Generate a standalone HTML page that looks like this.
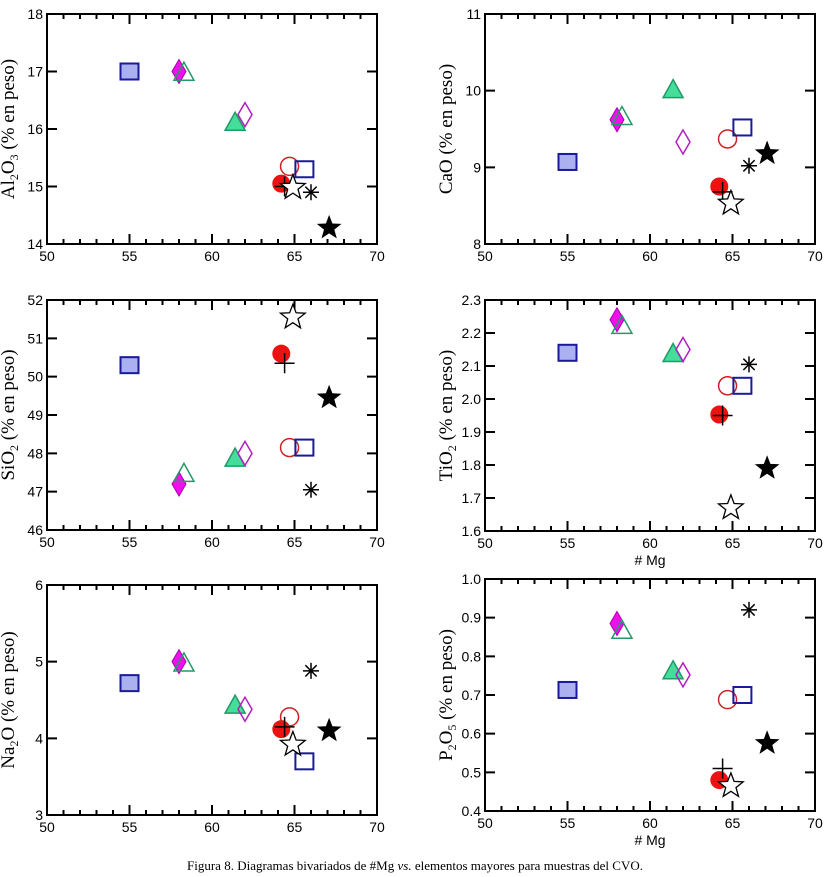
<!DOCTYPE html>
<html><head><meta charset="utf-8"><style>
body{margin:0;background:#fff;width:830px;height:877px;overflow:hidden}
svg{display:block}
.tk{font-family:"Liberation Sans",sans-serif;font-size:14px;fill:#000}
.yl{font-family:"Liberation Serif",serif;font-size:19px;fill:#000}
</style></head><body>
<svg id="c" width="830" height="877" xmlns="http://www.w3.org/2000/svg">
<text x="415" y="870" text-anchor="middle" style="font-family:'Liberation Serif',serif;font-size:13px">Figura 8. Diagramas bivariados de #Mg <tspan font-style="italic">vs.</tspan> elementos mayores para muestras del CVO.</text>
</svg>
<script>
// shared #Mg values per sample (x)
const sampleKeys=["sqFill","diaFill","triOpen","triFill","diaOpen","circFill","circOpen","sqOpen","plus","starOpen","asterisk","starFill"];
const mgValues=[55,58,58.3,61.4,62,64.2,64.7,65.6,64.4,64.9,66,67.1];
const al2o3=[17,17,16.97,16.1,16.25,15.05,15.35,15.3,15.0,14.98,14.9,14.28];
const cao=[9.07,9.62,9.65,10.0,9.33,8.75,9.37,9.52,8.68,8.53,9.02,9.18];
const sio2=[50.3,47.2,47.45,47.85,48.0,50.6,48.15,48.15,50.35,51.55,47.05,49.45];
const tio2=[2.14,2.24,2.22,2.135,2.15,1.953,2.04,2.04,1.95,1.67,2.105,1.79];
const na2o=[4.72,5.0,4.97,4.42,4.38,4.12,4.28,3.7,4.15,3.92,4.88,4.1];
const p2o5=[0.713,0.885,0.865,0.76,0.752,0.48,0.688,0.70,0.51,0.465,0.92,0.575];
const xTicks=[50,55,60,65,70];
const alTicks=[14,15,16,17,18], caoTicks=[8,9,10,11], sioTicks=[46,47,48,49,50,51,52];
const tioTicks=[1.6,1.7,1.8,1.9,2.0,2.1,2.2,2.3], naTicks=[3,4,5,6], pTicks=[0.4,0.5,0.6,0.7,0.8,0.9,1.0];

const NS="http://www.w3.org/2000/svg", svg=document.getElementById('c');
function mk(t,a,p){const e=document.createElementNS(NS,t);for(const k in a)e.setAttribute(k,a[k]);(p||svg).appendChild(e);return e;}

const panels=[
 {name:"al2o3",vals:al2o3,ticks:alTicks,dec:0,L:47,R:377,T:14,B:244,lab:["Al","2","O","3"," (% en peso)"],mg:false},
 {name:"cao",vals:cao,ticks:caoTicks,dec:0,L:485,R:815,T:14,B:244,lab:["CaO (% en peso)"],mg:false},
 {name:"sio2",vals:sio2,ticks:sioTicks,dec:0,L:47,R:377,T:300,B:530,lab:["SiO","2"," (% en peso)"],mg:false},
 {name:"tio2",vals:tio2,ticks:tioTicks,dec:1,L:485,R:815,T:300,B:531,lab:["TiO","2"," (% en peso)"],mg:true},
 {name:"na2o",vals:na2o,ticks:naTicks,dec:0,L:47,R:377,T:585,B:815,lab:["Na","2","O (% en peso)"],mg:false},
 {name:"p2o5",vals:p2o5,ticks:pTicks,dec:1,L:485,R:815,T:579,B:811,lab:["P","2","O","5"," (% en peso)"],mg:true}
];

function star(cx,cy,r){let p=[];for(let i=0;i<10;i++){const a=-Math.PI/2+i*Math.PI/5,rr=i%2?r*0.42:r;p.push((cx+rr*Math.cos(a)).toFixed(1)+","+(cy+rr*Math.sin(a)).toFixed(1));}return p.join(" ");}

function marker(g,k,x,y){
 let e;
 if(k==="sqFill")e=mk('rect',{x:x-9,y:y-8,width:18,height:16,fill:"#aab0f0",stroke:"#1a1a9a","stroke-width":2},g);
 else if(k==="sqOpen")e=mk('rect',{x:x-9,y:y-8,width:18,height:16,fill:"none",stroke:"#1a1a9a","stroke-width":2},g);
 else if(k==="diaFill")e=mk('polygon',{points:`${x},${y-12} ${x+7},${y} ${x},${y+12} ${x-7},${y}`,fill:"#ee11ee",stroke:"#aa00aa","stroke-width":1},g);
 else if(k==="diaOpen")e=mk('polygon',{points:`${x},${y-12} ${x+7},${y} ${x},${y+12} ${x-7},${y}`,fill:"none",stroke:"#b020c0","stroke-width":1.5},g);
 else if(k==="triFill")e=mk('polygon',{points:`${x},${y-11} ${x+10},${y+7} ${x-10},${y+7}`,fill:"#44dd99",stroke:"#229966","stroke-width":1.5},g);
 else if(k==="triOpen")e=mk('polygon',{points:`${x},${y-11} ${x+10},${y+7} ${x-10},${y+7}`,fill:"none",stroke:"#229966","stroke-width":1.5},g);
 else if(k==="circFill")e=mk('circle',{cx:x,cy:y,r:9,fill:"#ee1111"},g);
 else if(k==="circOpen")e=mk('circle',{cx:x,cy:y,r:9,fill:"none",stroke:"#cc2222","stroke-width":1.5},g);
 else if(k==="plus")e=mk('path',{d:`M${x-10},${y}H${x+10}M${x},${y-10}V${y+10}`,stroke:"#000","stroke-width":1.5},g);
 else if(k==="starOpen")e=mk('polygon',{points:star(x,y,13),fill:"#fff",stroke:"#000","stroke-width":1.3},g);
 else if(k==="starFill")e=mk('polygon',{points:star(x,y,13),fill:"#000"},g);
 else if(k==="asterisk"){let d="";for(let i=0;i<4;i++){const a=i*Math.PI/4,dx=8*Math.cos(a),dy=8*Math.sin(a);d+=`M${x-dx},${y-dy}L${x+dx},${y+dy}`;}e=mk('path',{d,stroke:"#000","stroke-width":1.5},g);}
 return e;
}

panels.forEach(p=>{
 const g=mk('g',{});
 
 
 const y0=p.ticks[0],y1=p.ticks[p.ticks.length-1];
 const sx=v=>p.L+(v-50)/20*(p.R-p.L);
 const sy=v=>p.B-(v-y0)/(y1-y0)*(p.B-p.T);
 let d="";
 for(let v=51;v<70;v++){const x=sx(v),len=v%5?5:10;d+=`M${x},${p.B}v${-len}M${x},${p.T}v${len}`;}
 p.ticks.forEach(v=>{const y=sy(v);d+=`M${p.L},${y}h10M${p.R},${y}h-10`;});
 const ax=mk('path',{d,stroke:"#000","stroke-width":2,fill:"none"},g);
 
 
 const fr=mk('rect',{x:p.L,y:p.T,width:p.R-p.L,height:p.B-p.T,fill:"none",stroke:"#000","stroke-width":2},g);
 
 
 xTicks.forEach(v=>{const t=mk('text',{x:sx(v),y:p.B+17,"text-anchor":"middle",class:"tk"},g);t.textContent=v;
  
  });
 p.ticks.forEach(v=>{const t=mk('text',{x:p.L-4,y:sy(v)+5,"text-anchor":"end",class:"tk"},g);t.textContent=v.toFixed(p.dec);
  
  });
 const cy=(p.T+p.B)/2, lx=p.L-33;
 const yl=mk('text',{x:lx,y:cy,"text-anchor":"middle",class:"yl",transform:`rotate(-90 ${lx} ${cy})`},g);
 
 
 p.lab.forEach((s,i)=>{const ts=mk('tspan',{},yl);
  if(s.length===1&&/\d/.test(s)){ts.setAttribute('font-size','12');ts.setAttribute('dy','4');}
  else if(i>0&&/\d/.test(p.lab[i-1])&&p.lab[i-1].length===1){ts.setAttribute('dy','-4');}
  ts.textContent=s;});
 if(p.mg){const t=mk('text',{x:(p.L+p.R)/2,y:p.B+34,"text-anchor":"middle",class:"tk"},g);t.textContent="# Mg";
  
  }
 sampleKeys.forEach((k,i)=>{const m=marker(g,k,sx(mgValues[i]),sy(p.vals[i]));
  
  });
});
</script>
</body></html>
